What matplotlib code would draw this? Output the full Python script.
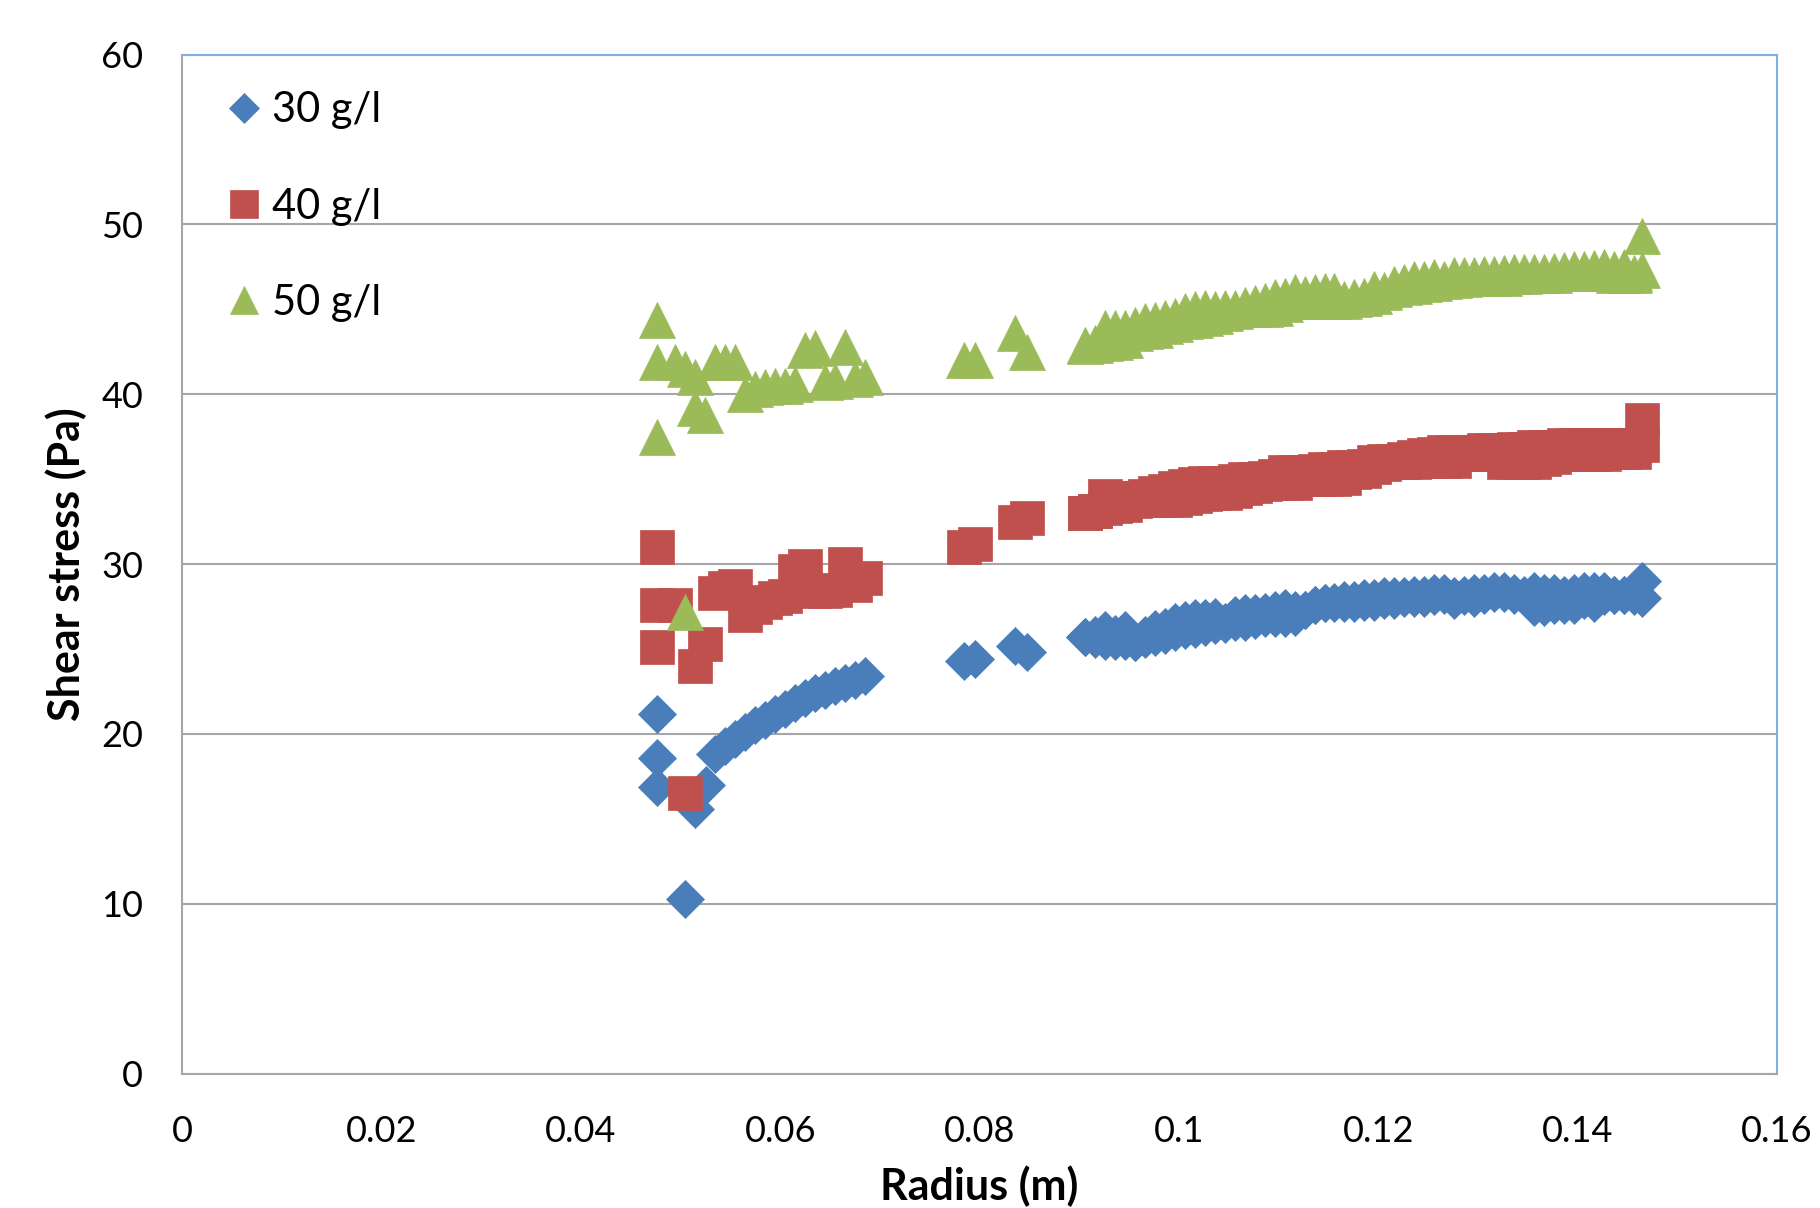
import matplotlib
matplotlib.use("Agg")
import matplotlib.pyplot as plt
import numpy as np

plt.rcParams['font.family'] = ['Lato', 'DejaVu Sans']

# ---- data ----
# radii of the outer, densely sampled part (shared by all three series)
far_r = [0.0906, 0.0916, 0.0926, 0.0936, 0.0946, 0.0956, 0.0966, 0.0976, 0.0986, 0.0996,
         0.1006, 0.1016, 0.1026, 0.1036, 0.1046, 0.1056, 0.1066, 0.1076, 0.1086, 0.1096,
         0.1106, 0.1116, 0.1126, 0.1136, 0.1146, 0.1156, 0.1166, 0.1176, 0.1186, 0.1196,
         0.1206, 0.1216, 0.1226, 0.1236, 0.1246, 0.1256, 0.1266, 0.1276, 0.1286, 0.1296,
         0.1306, 0.1316, 0.1326, 0.1336, 0.1346, 0.1356, 0.1366, 0.1376, 0.1386, 0.1396,
         0.1406, 0.1416, 0.1426, 0.1436, 0.1446, 0.1456]
end_r = [0.1465, 0.1465]

# 30 g/l
r30_near = [0.0476, 0.0476, 0.0476, 0.0504, 0.0514, 0.0526,
            0.0535, 0.0545, 0.0555, 0.0565, 0.0575, 0.0585, 0.0595, 0.0605,
            0.0615, 0.0625, 0.0635, 0.0645, 0.0655, 0.0665, 0.0675, 0.0685,
            0.0784, 0.0795, 0.0836, 0.0848]
s30_near = [21.2, 18.6, 16.9, 10.3, 15.6, 17.0,
            18.8, 19.3, 19.7, 20.1, 20.5, 20.8, 21.2, 21.5,
            21.8, 22.1, 22.4, 22.6, 22.8, 23.0, 23.2, 23.4,
            24.3, 24.4, 25.2, 24.8]
s30_run1 = [25.7, 25.8, 26.1, 25.9, 26.1, 25.4, 25.8, 26.2, 26.3, 26.6,
            26.7, 26.8, 26.8, 26.9, 26.6, 27.0, 27.1, 27.1, 27.2, 27.3,
            27.4, 27.3, 27.3, 27.6, 27.7, 27.7, 27.7, 27.7, 28.0, 28.0,
            28.1, 28.1, 28.1, 28.2, 28.2, 28.3, 28.3, 28.1, 28.2, 28.3,
            28.3, 28.4, 28.4, 28.3, 28.2, 28.4, 28.3, 28.3, 28.2, 28.3,
            28.4, 28.4, 28.4, 28.2, 28.2, 28.4]
s30_run2 = [25.7, 25.6, 25.5, 25.5, 25.5, 25.4, 25.6, 25.7, 25.8, 26.0,
            26.1, 26.2, 26.3, 26.4, 26.5, 26.6, 26.6, 26.7, 26.8, 26.8,
            26.8, 26.9, 27.3, 27.6, 27.7, 27.8, 27.9, 27.9, 27.8, 27.8,
            27.9, 27.9, 28.0, 28.0, 28.0, 28.1, 28.2, 27.9, 28.1, 28.0,
            28.2, 28.3, 28.3, 28.2, 28.1, 27.5, 27.5, 27.6, 27.6, 27.6,
            27.9, 27.7, 28.1, 28.2, 28.2, 28.1]
s30_end = [29.0, 28.0]

# 40 g/l
r40_near = [0.0476, 0.0476, 0.0476, 0.0494, 0.0504, 0.0514, 0.0524,
            0.0535, 0.0545, 0.0555, 0.0565, 0.0575, 0.0585, 0.0595, 0.0605,
            0.0615, 0.0625, 0.0635, 0.0645, 0.0655, 0.0665, 0.0675, 0.0685,
            0.0784, 0.0795, 0.0836, 0.0848]
s40_near = [31.0, 27.6, 25.1, 27.6, 16.5, 24.0, 25.3,
            28.3, 28.6, 28.7, 27.0, 27.5, 27.8, 28.0, 28.1,
            29.6, 29.9, 28.4, 28.4, 28.5, 30.0, 28.8, 29.2,
            31.0, 31.2, 32.5, 32.7]
s40_run1 = [33.0, 33.1, 34.0, 33.9, 33.9, 33.9, 34.0, 34.2, 34.3, 34.5,
            34.6, 34.7, 34.8, 34.8, 34.8, 34.9, 35.0, 35.0, 35.1, 35.2,
            35.4, 35.4, 35.4, 35.5, 35.6, 35.6, 35.7, 35.7, 35.8, 36.0,
            36.1, 36.1, 36.2, 36.3, 36.4, 36.5, 36.6, 36.6, 36.6, 36.6,
            36.7, 36.7, 36.7, 36.8, 36.8, 36.9, 36.9, 36.9, 37.0, 37.0,
            37.0, 37.0, 37.0, 37.0, 37.0, 37.0]
s40_run2 = [33.0, 33.1, 33.3, 33.4, 33.5, 33.7, 33.8, 33.8, 33.8, 33.8,
            33.9, 34.0, 34.1, 34.2, 34.2, 34.3, 34.5, 34.6, 34.7, 34.8,
            34.8, 34.8, 35.0, 35.0, 35.0, 35.0, 35.1, 35.4, 35.5, 35.7,
            35.9, 36.0, 36.0, 36.0, 36.1, 36.1, 36.1, 36.1, 36.5, 36.5,
            36.5, 36.5, 36.0, 36.0, 36.0, 36.0, 36.2, 36.3, 36.5, 36.5,
            36.5, 36.5, 36.5, 36.6, 36.6, 36.6]
s40_end = [38.5, 37.0]

# 50 g/l
r50_near = [0.0476, 0.0476, 0.0476, 0.0494, 0.0504, 0.0504, 0.0514, 0.0514, 0.0524,
            0.0535, 0.0545, 0.0555, 0.0565, 0.0575, 0.0585, 0.0595, 0.0605,
            0.0615, 0.0625, 0.0635, 0.0645, 0.0655, 0.0665, 0.0675, 0.0685,
            0.0784, 0.0795, 0.0836, 0.0848]
s50_near = [44.4, 41.9, 37.5, 41.9, 27.2, 41.5, 41.0, 39.2, 38.8,
            41.9, 41.9, 41.9, 40.0, 40.3, 40.4, 40.5, 40.5,
            40.6, 42.6, 42.7, 40.7, 40.8, 42.8, 40.9, 41.0,
            42.0, 42.0, 43.6, 42.5]
s50_run1 = [42.9, 43.0, 43.9, 43.9, 43.9, 44.1, 44.3, 44.35, 44.5, 44.6,
            44.9, 45.0, 45.1, 45.0, 45.1, 45.1, 45.25, 45.4, 45.5, 45.7,
            45.8, 46.0, 45.9, 46.0, 46.1, 46.1, 45.6, 45.7, 45.8, 46.2,
            46.15, 46.5, 46.6, 46.8, 46.8, 46.9, 46.8, 47.0, 47.0, 47.0,
            47.1, 47.1, 47.15, 47.2, 47.2, 47.2, 47.2, 47.25, 47.3, 47.35,
            47.4, 47.45, 47.5, 47.35, 47.5, 47.15]
s50_run2 = [42.85, 42.9, 43.0, 43.1, 43.2, 43.6, 43.7, 43.8, 44.0, 44.15,
            44.3, 44.4, 44.5, 44.6, 44.8, 44.9, 45.0, 45.0, 45.05, 45.1,
            45.3, 45.5, 45.7, 45.5, 45.5, 45.5, 45.5, 45.6, 45.65, 45.8,
            46.0, 46.2, 46.3, 46.4, 46.5, 46.55, 46.65, 46.75, 46.8, 46.85,
            46.85, 46.85, 46.85, 46.95, 46.95, 47.0, 47.05, 47.05, 47.15, 47.15,
            47.15, 47.15, 47.2, 47.0, 47.0, 47.0]
s50_end = [49.3, 47.3]

labels = ['30 g/l', '40 g/l', '50 g/l']
colors = ['#4a7ebb', '#c0504d', '#9bbb59']
markers = ['D', 's', '^']
sizes = [19, 25, 26.5]


def join(near_r, near_s, run1, run2, end_s):
    """ Stitch the pieces of one series together. """
    r = np.concatenate([near_r, far_r, far_r, end_r])
    s = np.concatenate([near_s, run1, run2, end_s])
    return r, s


series = [join(r30_near, s30_near, s30_run1, s30_run2, s30_end),
          join(r40_near, s40_near, s40_run1, s40_run2, s40_end),
          join(r50_near, s50_near, s50_run1, s50_run2, s50_end)]

fig = plt.figure(figsize=(18.2, 12.08), dpi=100)
ax = fig.add_axes([0.1001, 0.1112, 0.8763, 0.8436])

for (r, s), lab, c, m, ms in zip(series, labels, colors, markers, sizes):
    ax.plot(r, s, linestyle='none', marker=m, ms=ms, color=c,
            mec=c, mew=0.5, label=lab)

ax.set_xlim(0, 0.16)
ax.set_ylim(0, 60)
ax.set_xticks(np.arange(0, 0.161, 0.02))
ax.set_xticklabels(['0', '0.02', '0.04', '0.06', '0.08', '0.1', '0.12', '0.14', '0.16'])
ax.set_yticks(np.arange(0, 61, 10))
ax.yaxis.grid(True, color='#a6a6a6', linewidth=1.5)
ax.set_axisbelow(True)
ax.tick_params(length=0, labelsize=26, pad=30, colors='black')
ax.tick_params(axis='y', pad=28)

for side in ['left', 'bottom']:
    ax.spines[side].set_color('#a6a6a6')
    ax.spines[side].set_linewidth(1.5)
for side in ['top', 'right']:
    ax.spines[side].set_color('#7eb2e6')
    ax.spines[side].set_linewidth(1.5)

ax.set_xlabel('Radius (m)', fontsize=31, fontweight='bold', labelpad=12)
ax.set_ylabel('Shear stress (Pa)', fontsize=31, fontweight='bold', labelpad=10)

ax.legend(loc='upper left', bbox_to_anchor=(0.026, 0.964), frameon=False,
          fontsize=30, markerscale=0.78, handlelength=1.0, handletextpad=0.15,
          labelspacing=1.4, borderpad=0, borderaxespad=0)

fig.savefig('out.png', dpi=100)
